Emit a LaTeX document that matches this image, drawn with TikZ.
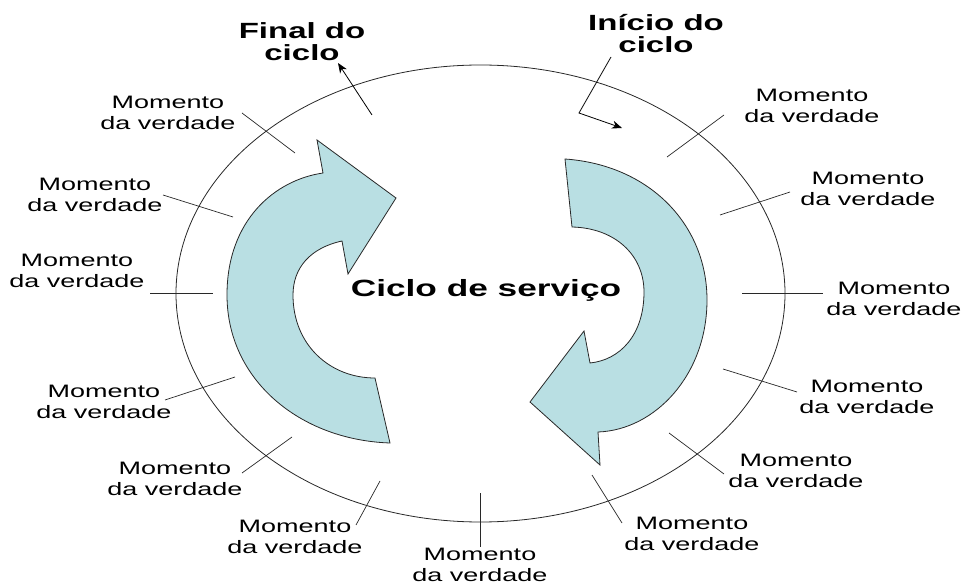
\documentclass[tikz,border=0pt]{standalone}
\usepackage{fontspec}
\setmainfont{Liberation Sans}
\newfontfamily\labfont[FakeStretch=1.5]{Liberation Sans}
\usetikzlibrary{arrows.meta}
\definecolor{arrowfill}{RGB}{185,223,227}
\definecolor{linegray}{RGB}{40,40,40}
\begin{document}
\begin{tikzpicture}[x=1pt,y=-1pt,
  mv/.style={font=\labfont\fontsize{18}{21.5}\selectfont, align=center, inner sep=0pt},
  ttl/.style={font=\labfont\bfseries\fontsize{22}{22}\selectfont, align=center, inner sep=0pt},
  tickline/.style={draw=linegray, line width=0.7pt},
  cyc/.style={fill=arrowfill, draw=linegray, line width=0.8pt, line join=miter},
  pointer/.style={draw=black, line width=0.8pt, -{Stealth[length=10pt,width=8pt,inset=3pt]}}]
\useasboundingbox (0,0) rectangle (962,585);

% outer ellipse
\draw[linegray, line width=0.8pt] (480.5,293.5) ellipse [x radius=304.5pt, y radius=228.5pt];

% left circular arrow
\draw[cyc] (390,443) .. controls (300,440) and (227,380) .. (227,295)
  .. controls (227,220) and (275,180) .. (323,173)
  -- (317,140) -- (396,198) -- (348,274) -- (342,241)
  .. controls (310,248) and (293,268) .. (293,295)
  .. controls (293,345) and (330,378) .. (375,378)
  -- cycle;

% right circular arrow
\draw[cyc] (565,159) .. controls (650,165) and (707,225) .. (707,300)
  .. controls (707,375) and (655,430) .. (598,432)
  -- (600,465) -- (530,402) -- (584,331) -- (590,363)
  .. controls (620,360) and (644,335) .. (644,292)
  .. controls (644,255) and (615,228) .. (572,227)
  -- cycle;

% centre label
\node[font=\labfont\bfseries\fontsize{23.5}{24}\selectfont, inner sep=0pt, anchor=base] (centre) at (486,297) {Ciclo de serviço};

% titles
\node[ttl] (fim) at (302,42) {Final do\\ciclo};
\node[ttl] (inicio) at (656,34) {Início do\\ciclo};
\coordinate (fimstart) at (372,115);
\coordinate (fimtip) at (338,63);
\draw[pointer] (fimstart) -- (fimtip);
\coordinate (iniA) at (611,57);
\coordinate (iniB) at (579,113);
\coordinate (iniC) at (622,128);
\draw[pointer] (iniA) -- (iniB) -- (iniC);

% moments of truth
\node[mv] (m1) at (168,113) {Momento\\da verdade};
\node[mv] (m2) at (95,195) {Momento\\da verdade};
\node[mv] (m3) at (77,271) {Momento\\da verdade};
\node[mv] (m4) at (104,402) {Momento\\da verdade};
\node[mv] (m5) at (175,479) {Momento\\da verdade};
\node[mv] (m6) at (295,537) {Momento\\da verdade};
\node[mv] (m7) at (480,565) {Momento\\da verdade};
\node[mv] (m8) at (692,534) {Momento\\da verdade};
\node[mv] (m9) at (796,471) {Momento\\da verdade};
\node[mv] (m10) at (867,397) {Momento\\da verdade};
\node[mv] (m11) at (894,299) {Momento\\da verdade};
\node[mv] (m12) at (868,189) {Momento\\da verdade};
\node[mv] (m13) at (812,106) {Momento\\da verdade};

% ticks across the ellipse
\draw[tickline] (242,113) -- (295,153);
\draw[tickline] (163,195) -- (233,217);
\draw[tickline] (150,293) -- (213,293);
\draw[tickline] (165,400) -- (235,377);
\draw[tickline] (242,473) -- (292,437);
\draw[tickline] (356,525) -- (380,481);
\draw[tickline] (480,493) -- (480,547);
\draw[tickline] (592,475) -- (622,523);
\draw[tickline] (669,433) -- (724,474);
\draw[tickline] (723,369) -- (797,392);
\draw[tickline] (742,293) -- (823,293);
\draw[tickline] (720,215) -- (790,192);
\draw[tickline] (667,157) -- (724,115);
\end{tikzpicture}
\end{document}
